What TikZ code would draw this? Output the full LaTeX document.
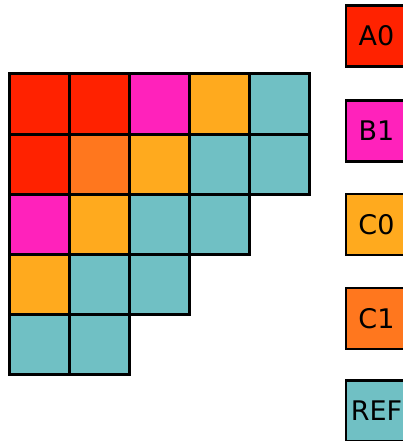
\documentclass[tikz,border=0pt]{standalone}
\usepackage{fontspec}
\setmainfont{DejaVu Sans}
\definecolor{cA}{RGB}{255,34,0}
\definecolor{cB}{RGB}{255,34,187}
\definecolor{cC}{RGB}{255,170,30}
\definecolor{cD}{RGB}{255,119,30}
\definecolor{cR}{RGB}{112,192,196}
\tikzset{
  cell/.style={draw=black, line width=3pt, minimum size=60pt, inner sep=0pt, outer sep=0pt},
  legbox/.style={draw=black, line width=2.3pt, minimum width=61pt, minimum height=61pt, inner sep=0pt,
    font=\fontsize{27}{32}\selectfont, text=black},
}
\begin{document}
\begin{tikzpicture}[x=1pt,y=-1pt]
\useasboundingbox (0,0) rectangle (403,441);
\begin{scope}
\clip (0,0) rectangle (403,441);
% row 0
\node[cell, fill=cA] (r0c0) at (39,104) {};
\node[cell, fill=cA] (r0c1) at (99,104) {};
\node[cell, fill=cB] (r0c2) at (159,104) {};
\node[cell, fill=cC] (r0c3) at (219,104) {};
\node[cell, fill=cR] (r0c4) at (279,104) {};
% row 1
\node[cell, fill=cA] (r1c0) at (39,164) {};
\node[cell, fill=cD] (r1c1) at (99,164) {};
\node[cell, fill=cC] (r1c2) at (159,164) {};
\node[cell, fill=cR] (r1c3) at (219,164) {};
\node[cell, fill=cR] (r1c4) at (279,164) {};
% row 2
\node[cell, fill=cB] (r2c0) at (39,224) {};
\node[cell, fill=cC] (r2c1) at (99,224) {};
\node[cell, fill=cR] (r2c2) at (159,224) {};
\node[cell, fill=cR] (r2c3) at (219,224) {};
% row 3
\node[cell, fill=cC] (r3c0) at (39,284) {};
\node[cell, fill=cR] (r3c1) at (99,284) {};
\node[cell, fill=cR] (r3c2) at (159,284) {};
% row 4
\node[cell, fill=cR] (r4c0) at (39,344) {};
\node[cell, fill=cR] (r4c1) at (99,344) {};
% legend
\node[legbox, fill=cA] (lA0) at (376.5,36) {A0};
\node[legbox, fill=cB] (lB1) at (376.5,131) {B1};
\node[legbox, fill=cC] (lC0) at (376.5,224.5) {C0};
\node[legbox, fill=cD] (lC1) at (376.5,318.5) {C1};
\node[legbox, fill=cR] (lREF) at (376.5,411) {REF};
\end{scope}
\end{tikzpicture}
\end{document}
